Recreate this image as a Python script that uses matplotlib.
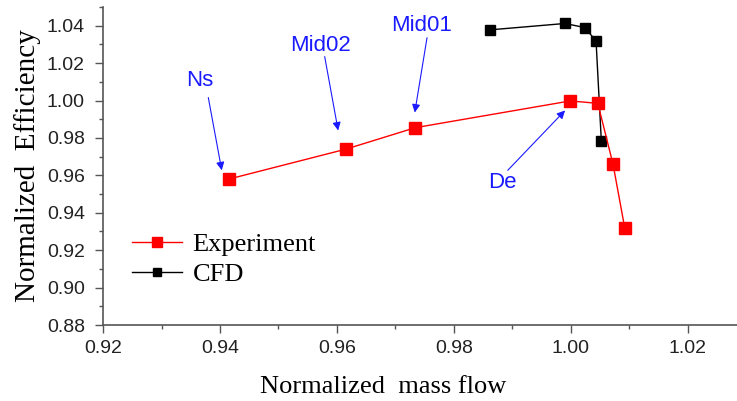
import matplotlib
matplotlib.use('Agg')
import matplotlib.pyplot as plt
from matplotlib.ticker import MultipleLocator

# Experiment (red) and CFD (black) data
exp_flow = [0.9415, 0.9615, 0.9734, 0.9999, 1.0046, 1.0072, 1.0092]
exp_eff = [0.958, 0.974, 0.9855, 0.9998, 0.9985, 0.966, 0.932]
cfd_flow = [0.9862, 0.9990, 1.0024, 1.0043, 1.0052]
cfd_eff = [1.0378, 1.0412, 1.0390, 1.0318, 0.9785]

# annotation labels: (text, text pos, arrow tail, arrow head)
labels = ['Ns', 'Mid02', 'Mid01', 'De']
text_pos = [(0.9366, 1.0107), (0.9571, 1.0293), (0.9745, 1.0400), (0.9882, 0.9563)]
arrow_tail = [(0.9380, 1.0016), (0.9579, 1.0235), (0.9754, 1.0336), (0.9892, 0.9627)]
arrow_head = [(0.9403, 0.9627), (0.9602, 0.9840), (0.9733, 0.9936), (0.9990, 0.9947)]

fig = plt.figure(figsize=(7.37, 4.01), dpi=100)
ax = fig.add_axes([0.1398, 0.1895, 0.8602, 0.793])

ax.plot(exp_flow, exp_eff, color='red', linewidth=1, marker='s', markersize=8,
        label='Experiment', zorder=3)
ax.plot(cfd_flow, cfd_eff, color='black', linewidth=1, marker='s', markersize=6.5,
        label='CFD', zorder=2)

for lab, tp, tail, head in zip(labels, text_pos, arrow_tail, arrow_head):
    ax.text(tp[0], tp[1], lab, color='#1a1aff', fontsize=16, family='Liberation Sans',
            ha='center', va='center')
    ax.annotate('', xy=head, xytext=tail,
                arrowprops=dict(arrowstyle='-|>', color='#1a1aff', lw=0.8,
                                mutation_scale=12, shrinkA=0, shrinkB=0))

ax.set_xlim(0.92, 1.0284)
ax.set_ylim(0.88, 1.050)
ax.xaxis.set_major_locator(MultipleLocator(0.02))
ax.xaxis.set_minor_locator(MultipleLocator(0.01))
ax.yaxis.set_major_locator(MultipleLocator(0.02))
ax.yaxis.set_minor_locator(MultipleLocator(0.01))
ax.xaxis.set_major_formatter(plt.FormatStrFormatter('%.2f'))
ax.yaxis.set_major_formatter(plt.FormatStrFormatter('%.2f'))

for s in ['top', 'right']:
    ax.spines[s].set_visible(False)
for s in ['left', 'bottom']:
    ax.spines[s].set_color('#555555')
    ax.spines[s].set_linewidth(1.2)

ax.tick_params(which='major', direction='out', length=6, width=1, color='#555555')
ax.tick_params(which='minor', direction='out', length=3, width=1, color='#555555')
ax.tick_params(axis='x', which='major', pad=5)
ax.tick_params(axis='y', which='major', pad=7)
for t in ax.get_xticklabels() + ax.get_yticklabels():
    t.set_family('Liberation Sans')
    t.set_fontsize(14)
    t.set_color('#222222')

ax.set_xlabel('Normalized  mass flow', fontsize=19, family='Liberation Serif', labelpad=8)
ax.xaxis.set_label_coords(0.442, -0.16)
ax.set_ylabel('Normalized  Efficiency', fontsize=21, family='Liberation Serif', labelpad=4)

ax.legend(loc='upper left', bbox_to_anchor=(0.008, 0.365), frameon=False,
          prop={'family': 'Liberation Serif', 'size': 19}, handlelength=1.9,
          handletextpad=0.4, labelspacing=0.25, markerscale=0.85)

fig.savefig('out.png', dpi=100)
